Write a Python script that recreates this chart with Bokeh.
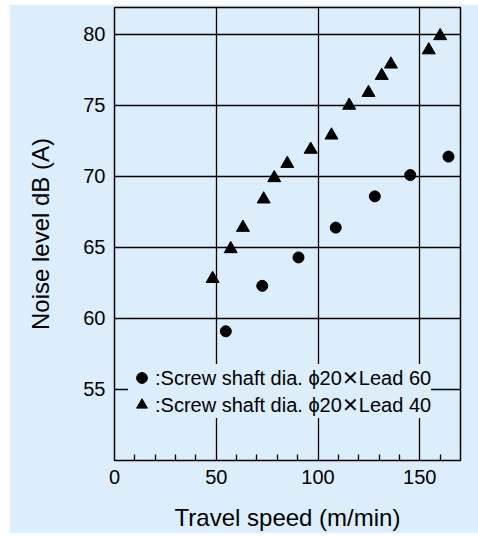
from bokeh.plotting import figure
from bokeh.models import FixedTicker, Range1d, Legend, LegendItem, Spacer
from bokeh.layouts import column, row
from bokeh.embed import file_html
from bokeh.resources import INLINE

# Data
speed_lead60 = [54.7, 72.6, 90.4, 108.7, 127.9, 145.3, 164.1]
noise_lead60 = [59.1, 62.3, 64.3, 66.4, 68.6, 70.1, 71.4]

speed_lead40 = [48.2, 57.1, 63.1, 73.3, 78.5, 84.9, 96.4, 106.6, 115.3, 124.8, 131.3, 135.8, 154.4, 160.0]
noise_lead40 = [62.8, 64.9, 66.4, 68.4, 69.9, 70.9, 71.9, 72.9, 75.0, 75.9, 77.1, 77.9, 78.9, 79.9]

x_ticks = [0, 50, 100, 150]
x_minor_ticks = [10, 20, 30, 40, 60, 70, 80, 90, 110, 120, 130, 140, 160]
y_ticks = [55, 60, 65, 70, 75, 80]

label_lead60 = ":Screw shaft dia. \u03d520\u2715Lead 60"
label_lead40 = ":Screw shaft dia. \u03d520\u2715Lead 40"

BG = "#dcedfb"
FONT = "Liberation Sans"

p = figure(width=469, height=529, output_backend="svg", toolbar_location=None,
           x_range=Range1d(0, 170), y_range=Range1d(50, 81.9),
           min_border_left=105, min_border_right=18, min_border_top=3, min_border_bottom=73)

p.background_fill_color = BG
p.border_fill_color = BG
p.outline_line_color = "black"
p.outline_line_width = 1.5

# axes
p.xaxis.ticker = FixedTicker(ticks=x_ticks, minor_ticks=x_minor_ticks)
p.yaxis.ticker = FixedTicker(ticks=y_ticks, minor_ticks=[])
for ax in (p.xaxis, p.yaxis):
    ax.axis_line_color = None
    ax.major_tick_in = 0
    ax.major_tick_out = 0
    ax.major_label_text_font = FONT
    ax.major_label_text_font_size = "20px"
    ax.major_label_text_color = "black"
    ax.axis_label_text_font = FONT
    ax.axis_label_text_font_size = "24px"
    ax.axis_label_text_font_style = "normal"
    ax.axis_label_text_color = "black"
p.xaxis.minor_tick_in = 6
p.xaxis.minor_tick_out = 0
p.xaxis.minor_tick_line_color = "black"
p.xaxis.minor_tick_line_width = 1.3
p.yaxis.minor_tick_line_color = None
p.xaxis.major_label_standoff = 9
p.yaxis.major_label_standoff = 9
p.xaxis.axis_label = "Travel speed (m/min)"
p.yaxis.axis_label = "Noise level dB (A)"
p.xaxis.axis_label_standoff = 17
p.yaxis.axis_label_standoff = 26

# grids
p.xgrid.ticker = FixedTicker(ticks=[50, 100, 150])
p.ygrid.ticker = FixedTicker(ticks=y_ticks)
for g in (p.xgrid, p.ygrid):
    g.grid_line_color = "black"
    g.grid_line_width = 1.3

r60 = p.scatter(speed_lead60, noise_lead60, marker="circle", size=11, color="black")
r40 = p.scatter(speed_lead40, noise_lead40, marker="triangle", size=13, color="black")

legend = Legend(items=[LegendItem(label=label_lead60, renderers=[r60]),
                       LegendItem(label=label_lead40, renderers=[r40])],
                location=(14, 42), orientation="vertical",
                glyph_width=27, glyph_height=27, label_standoff=-6,
                spacing=0, padding=2, margin=0,
                background_fill_color=BG, background_fill_alpha=1.0,
                border_line_color=None,
                label_text_font=FONT, label_text_font_size="20px",
                label_text_color="black")
p.add_layout(legend, "center")

layout = column(Spacer(height=4), row(Spacer(width=9), p))

open("out.html", "w").write(file_html(layout, INLINE))
